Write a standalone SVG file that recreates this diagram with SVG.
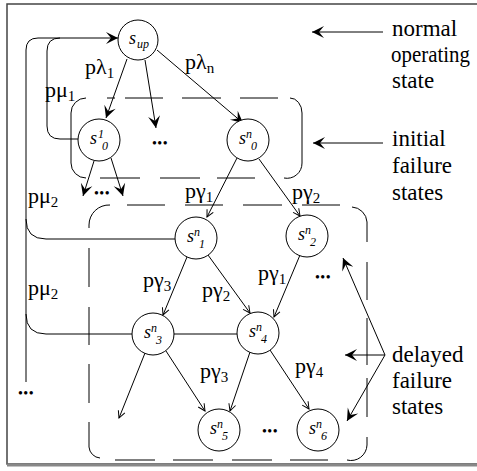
<svg xmlns="http://www.w3.org/2000/svg" width="477" height="471" viewBox="0 0 477 471">
  <style>
    .n circle { fill: #fff; stroke: #000; stroke-width: 1; }
    .sv { font-family: "Liberation Serif", "DejaVu Serif", serif; font-style: italic; font-size: 18px; fill: #000; }
    .sp { font-family: "Liberation Serif", "DejaVu Serif", serif; font-style: italic; font-size: 12px; fill: #000; }
    .lbl { font-family: "Liberation Serif", "DejaVu Serif", serif; font-size: 22px; fill: #000; }
    .sub { font-size: 15px; }
    .note { font-family: "Liberation Serif", "DejaVu Serif", serif; font-size: 23px; fill: #000; }
    .dots { font-family: "Liberation Serif", "DejaVu Serif", serif; font-size: 14px; text-anchor: middle; fill: #000; letter-spacing: 0.5px; }
    .e { stroke: #000; stroke-width: 1; fill: none; }
    .big { marker-end: url(#big); }
    .sm { marker-end: url(#sm); }
    .box { stroke: #000; stroke-width: 1; fill: none; }
  </style>
  <defs>
    <marker id="big" viewBox="-13 -7 14 14" refX="0" refY="0" markerWidth="14" markerHeight="14" markerUnits="userSpaceOnUse" orient="auto">
      <path d="M0,0 L-12,-6 L-7,0 L-12,6 Z" fill="#000"/>
    </marker>
    <marker id="sm" viewBox="-9 -5 10 10" refX="0" refY="0" markerWidth="10" markerHeight="10" markerUnits="userSpaceOnUse" orient="auto">
      <path d="M-7,-3.5 L0,0 L-7,3.5" fill="none" stroke="#000" stroke-width="1"/>
    </marker>
  </defs>

  <!-- frame -->
  <rect x="7" y="4" width="480" height="460" fill="#fff" stroke="#444" stroke-width="1.5"/>
  <line x1="7" y1="465" x2="477" y2="465" stroke="#888" stroke-width="3"/>

  <!-- group outlines -->
  <g id="initial-box" class="box">
    <path d="M86,98 A15,15 0 0 0 71,113 V163 A15,15 0 0 0 86,178"/>
    <path d="M290,98 A12,15 0 0 1 302,113 V163 A15,15 0 0 1 284,178"/>
    <path d="M107,98H115M125,98H163M182,98H221M240,98H278"/>
    <path d="M100,178H140M160,178H200M217,178H255"/>
  </g>
  <g id="delayed-box" class="box">
    <path d="M110,205 A20,20 0 0 0 89,225 V228"/>
    <path d="M127,205H165M185,205H223M243,205H282M302,205H340"/>
    <path d="M352,207 A16,16 0 0 1 367,222 V242M367,262V300M367,318V365M367,378V417M367,437V445 A16,16 0 0 1 347,460"/>
    <path d="M115,460H155M173,460H213M232,460H272M290,460H328"/>
    <path d="M89,248V287M89,307V345M89,364V403M89,422V447 A12,12 0 0 0 100,458"/>
  </g>

  <!-- connectors -->
  <g id="connectors">
    <path class="e big" d="M127,59 L106,118"/>
    <path class="e big" d="M145,60 L156,128"/>
    <path class="e big" d="M157,50 L243,123"/>
    <path class="e big" d="M94,161 L83,196"/>
    <path class="e big" d="M111,158 L123,196"/>
    <path class="e sm" d="M237,158 L207,217"/>
    <path class="e sm" d="M259,159 L300,216"/>
    <path class="e sm" d="M187,257 L163,315"/>
    <path class="e sm" d="M208,255 L250,313"/>
    <path class="e sm" d="M300,255 L274,317"/>
    <path class="e sm" d="M145,353 L119,418"/>
    <path class="e sm" d="M166,351 L205,411"/>
    <path class="e sm" d="M250,352 L230,411"/>
    <path class="e sm" d="M270,350 L309,409"/>
    <!-- repair loops back to the operating state -->
    <path class="e big" d="M78,139 H60 Q47,139 47,126 V51 Q47,38 60,38 H118"/>
    <path class="e" d="M26,382 V50 Q26,38 38,38 H60"/>
    <path class="e" d="M175,239 H46 Q26,239 26,219"/>
    <path class="e" d="M237,334 H46 Q26,334 26,314"/>
    <!-- legend pointers -->
    <path class="e big" d="M383,32 L312,32"/>
    <path class="e big" d="M383,143 L313,143"/>
    <path class="e big" d="M385,355 L345,355"/>
    <path class="e big" d="M385,355 L343,258"/>
    <path class="e big" d="M385,355 L347,421"/>
  </g>

  <!-- states -->
  <g id="s-up" class="n">
    <circle cx="138" cy="40" r="20"/>
    <text class="sv" x="129" y="44">s</text><text class="sp" x="137" y="48">up</text>
  </g>
  <g id="s1-0" class="n">
    <circle cx="99" cy="140" r="21"/>
    <text class="sv" x="90" y="144">s</text><text class="sp" x="98" y="138">1</text><text class="sp" x="102" y="150">0</text>
  </g>
  <g id="sn-0" class="n">
    <circle cx="248" cy="140" r="21"/>
    <text class="sv" x="239" y="144">s</text><text class="sp" x="246" y="138">n</text><text class="sp" x="251" y="150">0</text>
  </g>
  <g id="sn-1" class="n">
    <circle cx="196" cy="238" r="21"/>
    <text class="sv" x="187" y="242">s</text><text class="sp" x="194" y="236">n</text><text class="sp" x="199" y="248">1</text>
  </g>
  <g id="sn-2" class="n">
    <circle cx="307" cy="236" r="21"/>
    <text class="sv" x="298" y="240">s</text><text class="sp" x="305" y="234">n</text><text class="sp" x="310" y="246">2</text>
  </g>
  <g id="sn-3" class="n">
    <circle cx="153" cy="334" r="21"/>
    <text class="sv" x="144" y="338">s</text><text class="sp" x="151" y="332">n</text><text class="sp" x="156" y="344">3</text>
  </g>
  <g id="sn-4" class="n">
    <circle cx="258" cy="333" r="21"/>
    <text class="sv" x="249" y="337">s</text><text class="sp" x="256" y="331">n</text><text class="sp" x="261" y="343">4</text>
  </g>
  <g id="sn-5" class="n">
    <circle cx="219" cy="430" r="21"/>
    <text class="sv" x="210" y="434">s</text><text class="sp" x="217" y="428">n</text><text class="sp" x="222" y="440">5</text>
  </g>
  <g id="sn-6" class="n">
    <circle cx="318" cy="430" r="21"/>
    <text class="sv" x="309" y="434">s</text><text class="sp" x="316" y="428">n</text><text class="sp" x="321" y="440">6</text>
  </g>

  <!-- ellipses -->
  <g id="ellipses">
    <text class="dots" x="160" y="148">•••</text>
    <text class="dots" x="102" y="198">•••</text>
    <text class="dots" x="323" y="282">•••</text>
    <text class="dots" x="270" y="436">•••</text>
    <text class="dots" x="26" y="398">•••</text>
  </g>

  <!-- transition rates -->
  <g id="rates">
    <text class="lbl" x="85" y="74">pλ<tspan class="sub" dy="4">1</tspan></text>
    <text class="lbl" x="185" y="69">pλ<tspan class="sub" dy="4">n</tspan></text>
    <text class="lbl" x="45" y="97">pμ<tspan class="sub" dy="4">1</tspan></text>
    <text class="lbl" x="28" y="203">pμ<tspan class="sub" dy="4">2</tspan></text>
    <text class="lbl" x="28" y="295">pμ<tspan class="sub" dy="4">2</tspan></text>
    <text class="lbl" x="185" y="198">pγ<tspan class="sub" dy="4">1</tspan></text>
    <text class="lbl" x="292" y="199">pγ<tspan class="sub" dy="4">2</tspan></text>
    <text class="lbl" x="143" y="287">pγ<tspan class="sub" dy="4">3</tspan></text>
    <text class="lbl" x="202" y="297">pγ<tspan class="sub" dy="4">2</tspan></text>
    <text class="lbl" x="258" y="280">pγ<tspan class="sub" dy="4">1</tspan></text>
    <text class="lbl" x="200" y="378">pγ<tspan class="sub" dy="4">3</tspan></text>
    <text class="lbl" x="295" y="373">pγ<tspan class="sub" dy="4">4</tspan></text>
  </g>

  <!-- legend -->
  <g id="legend">
    <text class="note" x="392" y="36">normal</text>
    <text class="note" x="391" y="62" textLength="79" lengthAdjust="spacingAndGlyphs">operating</text>
    <text class="note" x="392" y="88">state</text>
    <text class="note" x="392" y="146">initial</text>
    <text class="note" x="392" y="173">failure</text>
    <text class="note" x="392" y="200">states</text>
    <text class="note" x="392" y="362">delayed</text>
    <text class="note" x="392" y="388">failure</text>
    <text class="note" x="392" y="414">states</text>
  </g>
</svg>
